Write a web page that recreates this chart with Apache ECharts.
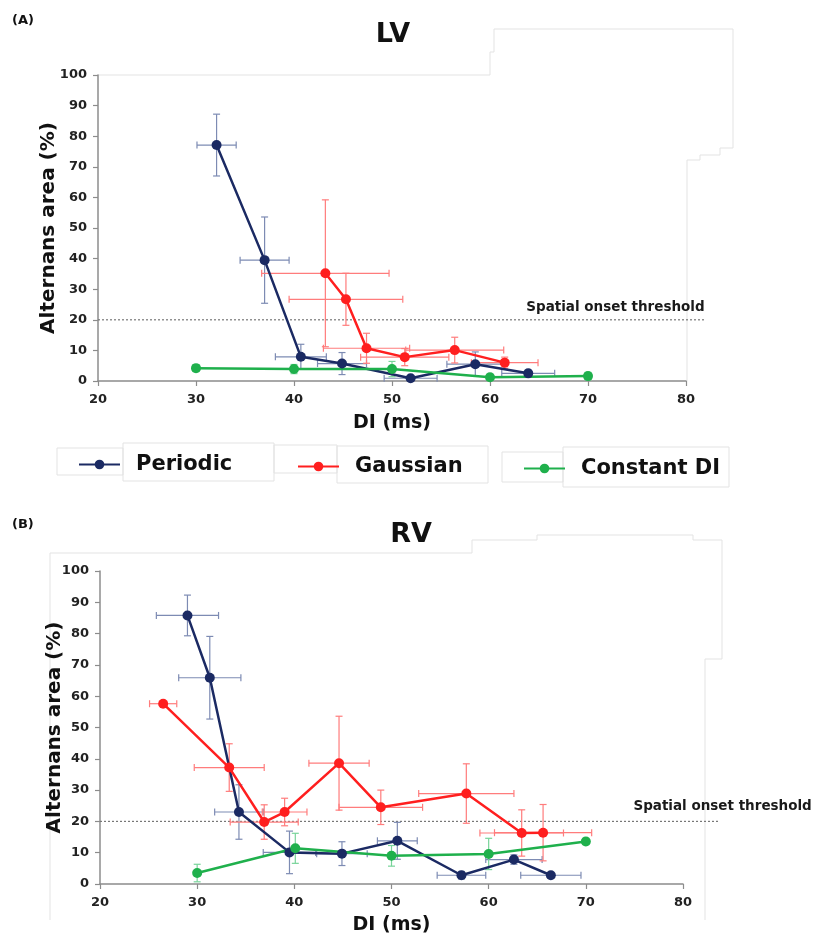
<!DOCTYPE html>
<html>
<head>
<meta charset="utf-8">
<script src="https://cdn.jsdelivr.net/npm/echarts@6/dist/echarts.min.js"></script>
<style>
  html, body { margin: 0; padding: 0; background: #fff; }
  #chart { width: 814px; height: 937px; }
</style>
</head>
<body>
<div id="chart"></div>
<script>
// Axis ranges (DI in ms, alternans area in %)
const diRange = [20, 80];
const areaRange = [0, 100];
const thresholdValue = 20;
const thresholdLabel = 'Spatial onset threshold';

// (A) LV — mean DI, mean alternans area, and their error half-widths
const lvPeriodicDI      = [32.1, 37.0, 40.7, 44.9, 51.9, 58.5, 63.9];
const lvPeriodicArea    = [77.1, 39.5, 7.9, 5.7, 0.9, 5.5, 2.5];
const lvPeriodicDIErr   = [2.0, 2.5, 2.6, 2.5, 2.7, 2.9, 2.7];
const lvPeriodicAreaErr = [10.1, 14.1, 4.1, 3.6, 0.8, 4.0, 1.0];

const lvGaussianDI      = [43.2, 45.3, 47.4, 51.3, 56.4, 61.5];
const lvGaussianArea    = [35.2, 26.7, 10.7, 7.8, 10.1, 6.0];
const lvGaussianDIErr   = [6.5, 5.8, 4.4, 4.5, 5.0, 3.4];
const lvGaussianAreaErr = [24.0, 8.5, 4.9, 2.8, 4.2, 1.8];

const lvConstantDI      = [30, 40, 50, 60, 70];
const lvConstantArea    = [4.2, 3.9, 3.9, 1.2, 1.6];
const lvConstantDIErr   = [0, 0, 0, 0, 0];
const lvConstantAreaErr = [1.1, 1.5, 2.5, 1.0, 1.2];

// (B) RV
const rvPeriodicDI      = [29.0, 31.3, 34.3, 39.5, 44.9, 50.6, 57.2, 62.6, 66.4];
const rvPeriodicArea    = [85.8, 65.9, 23.0, 10.1, 9.7, 13.8, 2.8, 7.8, 2.8];
const rvPeriodicDIErr   = [3.2, 3.2, 2.5, 2.7, 2.6, 2.05, 2.5, 2.9, 3.1];
const rvPeriodicAreaErr = [6.5, 13.2, 8.7, 6.8, 3.8, 5.9, 1.2, 1.5, 0.8];

const rvGaussianDI      = [26.5, 33.3, 36.9, 39.0, 44.6, 48.9, 57.7, 63.4, 65.6];
const rvGaussianArea    = [57.6, 37.2, 19.8, 23.0, 38.6, 24.5, 28.9, 16.3, 16.4];
const rvGaussianDIErr   = [1.4, 3.6, 3.5, 2.3, 3.1, 4.3, 4.9, 4.3, 5.0];
const rvGaussianAreaErr = [0.6, 7.6, 5.5, 4.4, 15.0, 5.5, 9.5, 7.4, 9.0];

const rvConstantDI      = [30, 40.1, 50, 60, 70];
const rvConstantArea    = [3.5, 11.4, 9.0, 9.6, 13.6];
const rvConstantDIErr   = [0, 0, 0, 0, 0];
const rvConstantAreaErr = [2.8, 4.8, 3.3, 5.0, 1.0];

const seriesNames = ['Periodic', 'Gaussian', 'Constant DI'];
const lineColors = ['#1b2a63', '#ff1f1f', '#1fb04c'];
const errColors  = ['#7d8bb3', '#ff7c7c', '#78d49a'];

const FONT = '"DejaVu Sans", Verdana, sans-serif';

function zip(xs, ys) { return xs.map((x, i) => [x, ys[i]]); }
function zipErr(xs, ys, dxs, dys) { return xs.map((x, i) => [x, ys[i], dxs[i], dys[i]]); }

function errorBarRenderer(color) {
  return function (params, api) {
    const x = api.value(0), y = api.value(1), dx = api.value(2), dy = api.value(3);
    const style = { stroke: color, lineWidth: 1.2, fill: null };
    const cap = 3.5;
    const children = [];
    if (dx > 0) {
      const l = api.coord([x - dx, y]), r = api.coord([x + dx, y]);
      children.push({ type: 'line', shape: { x1: l[0], y1: l[1], x2: r[0], y2: r[1] }, style });
      children.push({ type: 'line', shape: { x1: l[0], y1: l[1] - cap, x2: l[0], y2: l[1] + cap }, style });
      children.push({ type: 'line', shape: { x1: r[0], y1: r[1] - cap, x2: r[0], y2: r[1] + cap }, style });
    }
    if (dy > 0) {
      const t = api.coord([x, y + dy]), b = api.coord([x, y - dy]);
      children.push({ type: 'line', shape: { x1: t[0], y1: t[1], x2: b[0], y2: b[1] }, style });
      children.push({ type: 'line', shape: { x1: t[0] - cap, y1: t[1], x2: t[0] + cap, y2: t[1] }, style });
      children.push({ type: 'line', shape: { x1: b[0] - cap, y1: b[1], x2: b[0] + cap, y2: b[1] }, style });
    }
    return { type: 'group', children };
  };
}

// dotted threshold line, allowed to run past the axis end
function thresholdRenderer(params, api) {
  const a = api.coord([api.value(0), api.value(2)]);
  const b = api.coord([api.value(1), api.value(2)]);
  return {
    type: 'line',
    shape: { x1: a[0], y1: a[1], x2: b[0], y2: b[1] },
    style: { stroke: '#777', lineWidth: 1.2, lineDash: [2, 2], fill: null }
  };
}

const panels = [
  {
    groups: [
      [lvPeriodicDI, lvPeriodicArea, lvPeriodicDIErr, lvPeriodicAreaErr],
      [lvGaussianDI, lvGaussianArea, lvGaussianDIErr, lvGaussianAreaErr],
      [lvConstantDI, lvConstantArea, lvConstantDIErr, lvConstantAreaErr]
    ],
    thresholdEnd: 81.95, labelEnd: 81.9, labelLift: 12.5, nameGap: 39
  },
  {
    groups: [
      [rvPeriodicDI, rvPeriodicArea, rvPeriodicDIErr, rvPeriodicAreaErr],
      [rvGaussianDI, rvGaussianArea, rvGaussianDIErr, rvGaussianAreaErr],
      [rvConstantDI, rvConstantArea, rvConstantDIErr, rvConstantAreaErr]
    ],
    thresholdEnd: 83.6, labelEnd: 93.25, labelLift: 15, nameGap: 35
  }
];

const axisColor = '#8c8c8c';
const labelStyle = { fontFamily: FONT, fontWeight: 'bold', fontSize: 13, color: '#222' };

const grids = [
  { left: 98, top: 75, width: 588, height: 306 },
  { left: 100, top: 571, width: 583, height: 313 }
];

const xAxes = grids.map((g, i) => ({
  gridIndex: i, type: 'value', min: diRange[0], max: diRange[1], interval: 10,
  name: 'DI (ms)', nameLocation: 'middle', nameGap: i === 0 ? 33 : 32,
  nameMoveOverlap: false,
  nameTextStyle: { fontFamily: FONT, fontWeight: 'bold', fontSize: 19, color: '#111' },
  axisLine: { lineStyle: { color: axisColor, width: 1.5 } },
  axisTick: { show: true, length: 5, lineStyle: { color: axisColor, width: 1.2 } },
  axisLabel: Object.assign({ margin: 12 }, labelStyle),
  splitLine: { show: false }
}));

const yAxes = grids.map((g, i) => ({
  gridIndex: i, type: 'value', min: areaRange[0], max: areaRange[1], interval: 10,
  name: 'Alternans area (%)', nameLocation: 'middle', nameGap: panels[i].nameGap,
  nameMoveOverlap: false,
  nameTextStyle: { fontFamily: FONT, fontWeight: 'bold', fontSize: 20, color: '#111' },
  axisLine: { show: true, lineStyle: { color: axisColor, width: 1.5 } },
  axisTick: { show: true, length: 5, lineStyle: { color: axisColor, width: 1.2 } },
  axisLabel: Object.assign({ margin: 11 }, labelStyle),
  splitLine: { show: false }
}));

const series = [];
panels.forEach((p, gi) => {
  series.push({
    type: 'custom', xAxisIndex: gi, yAxisIndex: gi, clip: false, silent: true, z: 1,
    renderItem: thresholdRenderer,
    encode: { x: [0, 1], y: 2 },
    data: [[diRange[0], p.thresholdEnd, thresholdValue]]
  });
  p.groups.forEach((g, si) => {
    series.push({
      type: 'custom', xAxisIndex: gi, yAxisIndex: gi, z: 2, silent: true,
      renderItem: errorBarRenderer(errColors[si]),
      encode: { x: 0, y: 1 },
      data: zipErr(g[0], g[1], g[2], g[3])
    });
  });
  p.groups.forEach((g, si) => {
    series.push({
      type: 'line', name: seriesNames[si], xAxisIndex: gi, yAxisIndex: gi, z: 3,
      symbol: 'circle', symbolSize: 10, showSymbol: true,
      lineStyle: { color: lineColors[si], width: 2.5 },
      itemStyle: { color: lineColors[si] },
      data: zip(g[0], g[1])
    });
  });
});

const legendTops = [454, 456, 458];
const legendLefts = [78, 297, 523];
const legends = seriesNames.map((n, i) => ({
  data: [n], left: legendLefts[i], top: legendTops[i], padding: 0,
  itemWidth: 41, itemHeight: 12, selectedMode: false,
  textStyle: { fontFamily: FONT, fontWeight: 'bold', fontSize: 21, color: '#111', padding: [0, 0, 0, 11] }
}));

// faint frame outlines around the panels and legend boxes
const faint = { stroke: '#e3e3e3', lineWidth: 1, fill: null };
const frames = [
  [[98, 75], [490, 75], [490, 52], [494, 52], [494, 29], [733, 29], [733, 148], [720, 148], [720, 155], [700, 155], [700, 160], [687, 160], [687, 381]],
  [[50, 920], [50, 553], [472, 553], [472, 540], [537, 540], [537, 535], [693, 535], [693, 540], [722, 540], [722, 659], [705, 659], [705, 920]]
].map(pts => ({ type: 'polyline', silent: true, z: -1, shape: { points: pts }, style: faint }));
const boxes = [
  [57, 448, 66, 27], [123, 443, 151, 38],
  [274, 445, 63, 28], [337, 446, 151, 37],
  [502, 452, 61, 30], [563, 447, 166, 40]
].map(b => ({ type: 'rect', silent: true, z: -1, shape: { x: b[0], y: b[1], width: b[2], height: b[3] }, style: faint }));

const texts = [
  { text: '(A)', x: 12, y: 21, font: 'bold 13px ' + FONT, align: 'left' },
  { text: '(B)', x: 12, y: 525, font: 'bold 13px ' + FONT, align: 'left' },
  { text: 'LV', x: 393, y: 35, font: 'bold 27px ' + FONT, align: 'center' },
  { text: 'RV', x: 411, y: 535, font: 'bold 27px ' + FONT, align: 'center' }
].map(t => ({
  type: 'text', silent: true, x: t.x, y: t.y,
  style: { text: t.text, font: t.font, fill: '#111', align: t.align, verticalAlign: 'middle' }
}));

const chart = echarts.init(document.getElementById('chart'), null, { renderer: 'canvas' });
chart.setOption({
  animation: false,
  backgroundColor: '#fff',
  grid: grids,
  xAxis: xAxes,
  yAxis: yAxes,
  legend: legends,
  series: series,
  graphic: frames.concat(boxes, texts)
});

// threshold captions placed through each panel's own scales
const captions = panels.map((p, gi) => {
  const pt = chart.convertToPixel({ gridIndex: gi }, [p.labelEnd, thresholdValue]);
  return {
    type: 'text', silent: true, x: pt[0], y: pt[1] - p.labelLift,
    style: { text: thresholdLabel, font: 'bold 13.5px ' + FONT, fill: '#1a1a1a', align: 'right', verticalAlign: 'middle' }
  };
});
chart.setOption({ graphic: frames.concat(boxes, texts, captions) });
</script>
</body>
</html>
